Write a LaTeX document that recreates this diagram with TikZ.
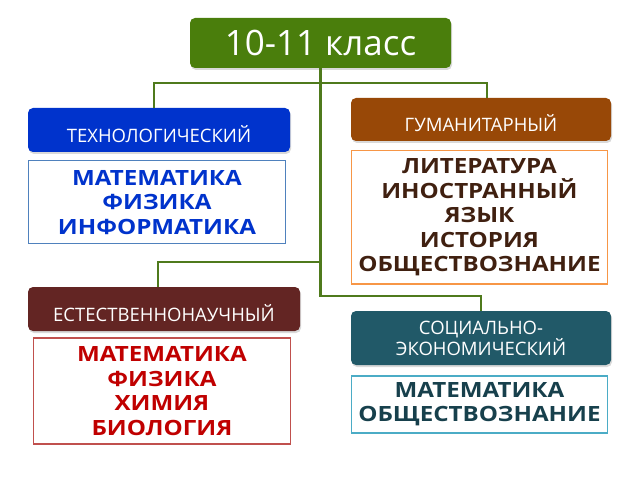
\documentclass[tikz,border=0pt]{standalone}
\usepackage{fontspec}
\setmainfont{Open Sans}
\newfontfamily\subjfont[FakeStretch=1.15]{Open Sans}
\usepackage{tikz}
\usetikzlibrary{positioning}
\usetikzlibrary{shadows}
\definecolor{rootfill}{RGB}{74,126,12}
\definecolor{link}{RGB}{79,122,28}
\definecolor{techfill}{RGB}{0,51,204}
\definecolor{techline}{RGB}{79,129,189}
\definecolor{gumfill}{RGB}{152,72,7}
\definecolor{gumline}{RGB}{247,150,70}
\definecolor{gumtext}{RGB}{64,32,16}
\definecolor{estfill}{RGB}{99,37,35}
\definecolor{estline}{RGB}{192,80,77}
\definecolor{esttext}{RGB}{192,0,0}
\definecolor{socfill}{RGB}{33,89,104}
\definecolor{socline}{RGB}{75,172,198}
\definecolor{soctext}{RGB}{23,64,76}

\begin{document}
\begin{tikzpicture}[x=1pt, y=1pt,
    head/.style = {rectangle, rounded corners=5pt, text=white, align=center, inner sep=2pt,
        font=\fontsize{18.5}{21}\selectfont, minimum height=44pt,
        drop shadow={opacity=0.3, shadow xshift=1pt, shadow yshift=-2pt}},
    oneline/.style = {text height=25pt, text depth=0pt},
    subj/.style = {rectangle, draw, line width=1.3pt, fill=white, align=center, inner sep=0pt,
        font=\fontsize{21}{24.5}\subjfont\bfseries},
    conn/.style = {draw=link, line width=2.4pt}]
        \useasboundingbox (0,0) rectangle (640,480);
        \node[head, fill=rootfill, minimum width=261pt, minimum height=50pt, text height=25pt, text depth=0pt,
            font=\fontsize{35}{38}\selectfont] (cls) at (320.5,437) {10-11 класс};
        \node[head, oneline, fill=techfill, minimum width=262pt] (tech) at (159,350) {ТЕХНОЛОГИЧЕСКИЙ};
        \node[head, oneline, fill=gumfill, minimum width=260pt, minimum height=43pt] (gum) at (481,360.5) {ГУМАНИТАРНЫЙ};
        \node[head, oneline, fill=estfill, minimum width=272pt] (est) at (164,171) {ЕСТЕСТВЕННОНАУЧНЫЙ};
        \node[head, fill=socfill, minimum width=260pt, minimum height=54pt] (soc) at (481,142) {СОЦИАЛЬНО-\\ЭКОНОМИЧЕСКИЙ};
        % subject lists under each profile
        \node[subj, draw=techline, text=techfill, minimum width=257pt, minimum height=83pt]
            (techs) [below=8pt of tech.south west, anchor=north west] {МАТЕМАТИКА\\ФИЗИКА\\ИНФОРМАТИКА};
        \node[subj, draw=gumline, text=gumtext, minimum width=256pt, minimum height=133pt]
            (gums) [below=9pt of gum.south west, anchor=north west] {ЛИТЕРАТУРА\\ИНОСТРАННЫЙ\\ЯЗЫК\\ИСТОРИЯ\\ОБЩЕСТВОЗНАНИЕ};
        \node[subj, draw=estline, text=esttext, minimum width=257pt, minimum height=106pt]
            (ests) [below=6pt of est.south west, anchor=north west, xshift=5pt] {МАТЕМАТИКА\\ФИЗИКА\\ХИМИЯ\\БИОЛОГИЯ};
        \node[subj, draw=socline, text=soctext, minimum width=256pt, minimum height=57pt]
            (socs) [below=10pt of soc.south west, anchor=north west] {МАТЕМАТИКА\\ОБЩЕСТВОЗНАНИЕ};
        % tree lines
        \coordinate (hub) at (320.5,397);
        \coordinate (fork1) at (320.5,218);
        \coordinate (fork2) at (320.5,184);
        \draw[conn] ([xshift=-5pt]tech.north) |- (hub) -| ([xshift=6pt]gum.north);
        \draw[conn] (cls.south) -- (fork2) -| (soc.north);
        \draw[conn] (fork1) -| ([xshift=-6pt]est.north);
    \end{tikzpicture}
\end{document}
